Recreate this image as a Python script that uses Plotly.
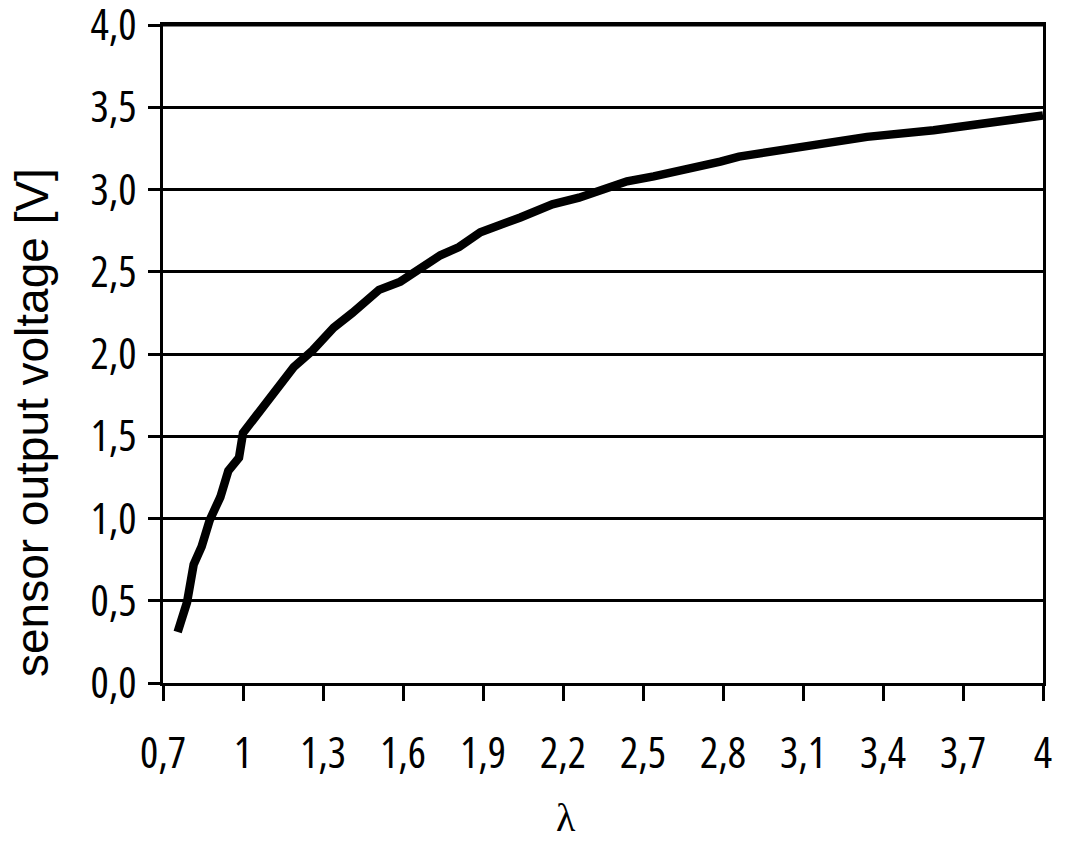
import plotly.graph_objects as go

# data
lam = [0.755, 0.79, 0.815, 0.845, 0.875, 0.915, 0.945, 0.985, 1.0, 1.06, 1.12, 1.19,
       1.26, 1.34, 1.41, 1.51, 1.59, 1.69, 1.74, 1.81, 1.89, 2.04, 2.16, 2.26, 2.36,
       2.44, 2.54, 2.66, 2.79, 2.86, 3.09, 3.34, 3.59, 3.84, 4.0]
voltage = [0.31, 0.49, 0.72, 0.83, 0.99, 1.13, 1.29, 1.37, 1.52, 1.64, 1.78, 1.92,
           2.02, 2.16, 2.25, 2.39, 2.44, 2.54, 2.60, 2.65, 2.74, 2.83, 2.91, 2.95, 3.00,
           3.05, 3.08, 3.12, 3.17, 3.20, 3.26, 3.32, 3.36, 3.41, 3.45]

x_tickvals = [0.7, 1.0, 1.3, 1.6, 1.9, 2.2, 2.5, 2.8, 3.1, 3.4, 3.7, 4.0]
x_ticktext = ["0,7", "1", "1,3", "1,6", "1,9", "2,2", "2,5", "2,8", "3,1", "3,4", "3,7", "4"]
y_tickvals = [0.0, 0.5, 1.0, 1.5, 2.0, 2.5, 3.0, 3.5, 4.0]
y_ticktext = ["0,0", "0,5", "1,0", "1,5", "2,0", "2,5", "3,0", "3,5", "4,0"]


def narrow(t):
    return '<span style="font-stretch:condensed">' + t + '</span>'


tick_font = dict(family="Open Sans, sans-serif", size=43, color="black")

# page body has an 8px margin: figure starts at (8, 8)
W, H = 1064, 834
L, T = 155, 17
R, B = 29, 159
PW = W - L - R
PH = H - T - B

fig = go.Figure()
fig.add_trace(go.Scatter(x=lam, y=voltage, mode="lines",
                         line=dict(color="black", width=8.5, shape="linear"),
                         showlegend=False, cliponaxis=False))

fig.update_layout(
    width=W, height=H,
    margin=dict(l=L, r=R, t=T, b=B, autoexpand=False),
    paper_bgcolor="white", plot_bgcolor="white",
    xaxis=dict(range=[0.7, 4.0], tickvals=x_tickvals, ticktext=[narrow(t) for t in x_ticktext],
               showgrid=False, zeroline=False, automargin=False,
               showline=True, linecolor="black", linewidth=2.5, mirror=True,
               ticks="outside", ticklen=15, tickwidth=2.5, tickcolor="black",
               tickfont=tick_font, ticklabelstandoff=16, ticklabeloverflow="allow"),
    yaxis=dict(range=[0, 4.0], tickvals=y_tickvals, ticktext=[narrow(t) for t in y_ticktext],
               showgrid=True, gridcolor="black", gridwidth=3, zeroline=False, automargin=False,
               showline=True, linecolor="black", linewidth=2.5, mirror=True,
               ticks="outside", ticklen=12, tickwidth=3, tickcolor="black",
               tickfont=tick_font, ticklabelstandoff=3, ticklabeloverflow="allow"),
    shapes=[
        dict(type="line", xref="paper", yref="y", x0=0, x1=1, y0=4.0, y1=4.0,
             line=dict(color="black", width=3), layer="above"),
    ],
    annotations=[
        dict(text="sensor output voltage [V]", textangle=-90,
             x=(32 - 8 - L) / PW, y=(683 - 423) / PH,
             xref="paper", yref="paper", xanchor="center", yanchor="middle",
             showarrow=False,
             font=dict(family="Liberation Sans, Arial, sans-serif", size=46, color="black")),
        dict(text="λ", x=(566 - 8 - L) / PW, y=(683 - 818) / PH, xref="paper", yref="paper",
             xanchor="center", yanchor="middle", showarrow=False,
             font=dict(family="Liberation Serif, Times New Roman, serif", size=40, color="black")),
    ],
)

fig.write_html("out.html")
